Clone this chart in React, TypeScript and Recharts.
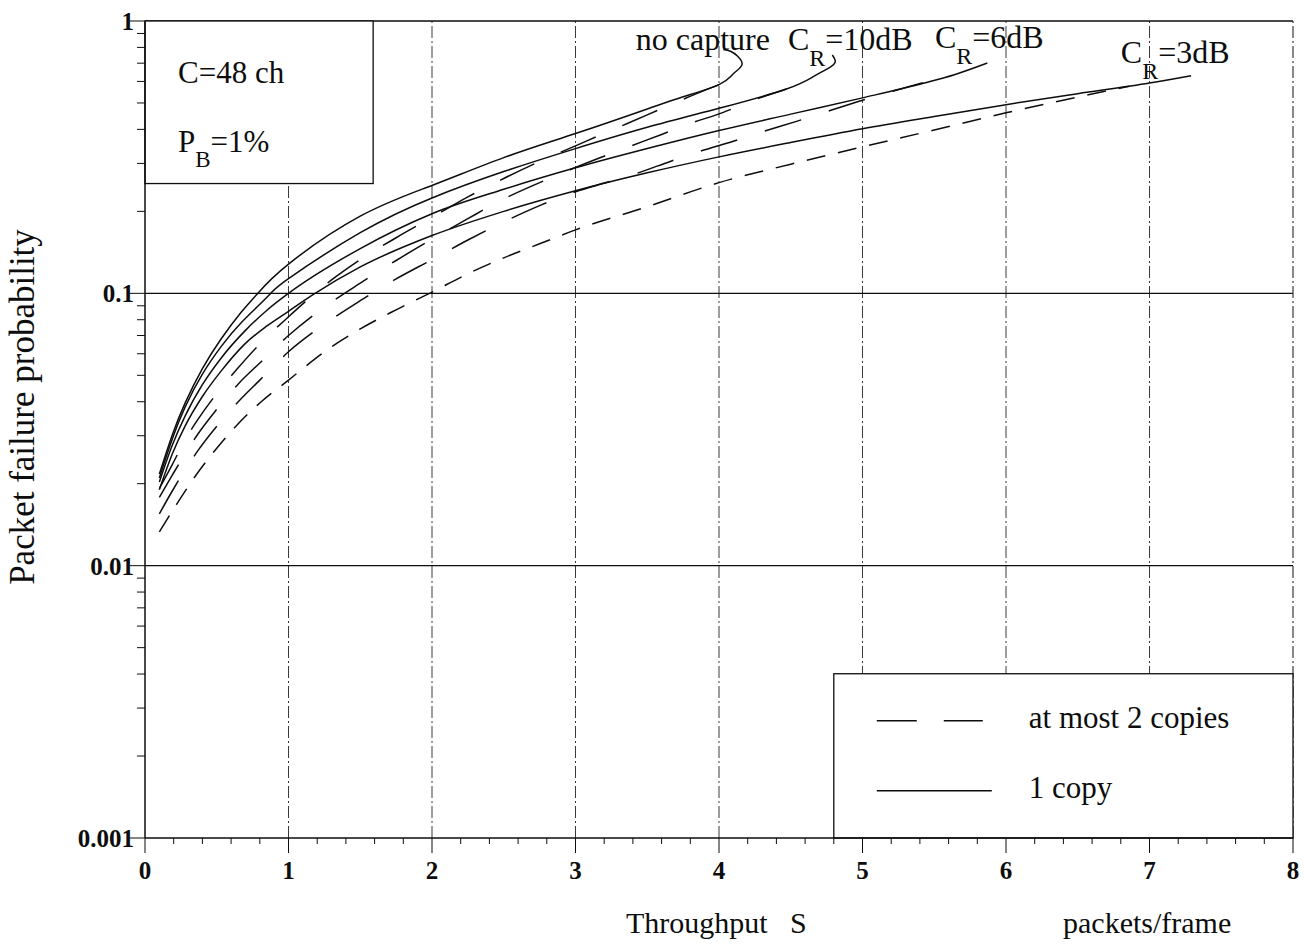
import { LineChart, Line, XAxis, YAxis, ReferenceLine, ReferenceArea, ReferenceDot } from 'recharts';

// throughput S (packets/frame) against packet failure probability
// "1" = 1 copy (solid), "2" = at most 2 copies (dashed)
const noCapture1 = [
  [0.1, 0.0217], [0.19, 0.0302], [0.28, 0.0396], [0.4, 0.0529], [0.53, 0.068], [0.67, 0.0852],
  [0.78, 0.0992], [1.0, 0.128], [1.5, 0.192], [2.0, 0.249], [2.5, 0.315], [3.0, 0.386], [3.5, 0.475],
  [3.75, 0.527], [4.0, 0.584], [4.1, 0.64], [4.16, 0.69], [4.13, 0.742], [4.08, 0.774], [4.03, 0.785],
];
const noCapture2 = [
  [0.1, 0.0192], [0.19, 0.0235], [0.28, 0.029], [0.37, 0.0345], [0.51, 0.0435], [0.64, 0.0526],
  [0.81, 0.066], [1.0, 0.082], [1.3, 0.112], [1.5, 0.133], [1.75, 0.16], [2.0, 0.19], [2.25, 0.226],
  [2.5, 0.264], [2.75, 0.305], [3.0, 0.348], [3.25, 0.397], [3.5, 0.452], [3.75, 0.516], [4.0, 0.584],
];
const cr10dB1 = [
  [0.1, 0.021], [0.19, 0.0292], [0.28, 0.0383], [0.4, 0.0505], [0.53, 0.0637], [0.67, 0.078],
  [0.86, 0.098], [1.0, 0.1133], [1.5, 0.167], [2.0, 0.224], [2.5, 0.28], [3.0, 0.34], [3.5, 0.407],
  [4.0, 0.478], [4.47, 0.563], [4.66, 0.626], [4.78, 0.68], [4.81, 0.715], [4.79, 0.75],
];
const cr10dB2 = [
  [0.1, 0.0178], [0.19, 0.0215], [0.28, 0.0258], [0.37, 0.0305], [0.5, 0.0375], [0.65, 0.0465],
  [0.8, 0.0555], [1.0, 0.07], [1.25, 0.089], [1.5, 0.109], [1.75, 0.132], [2.0, 0.158], [2.25, 0.188],
  [2.5, 0.222], [2.75, 0.255], [3.0, 0.29], [3.35, 0.342], [3.6, 0.383], [3.78, 0.417], [4.03, 0.462],
  [4.22, 0.507], [4.47, 0.563],
];
const cr6dB1 = [
  [0.1, 0.0203], [0.19, 0.0277], [0.28, 0.0355], [0.4, 0.0462], [0.53, 0.0578], [0.7, 0.0731],
  [0.85, 0.0867], [1.0, 0.1], [1.5, 0.146], [2.0, 0.196], [2.5, 0.241], [3.0, 0.289], [3.5, 0.34],
  [4.0, 0.396], [4.5, 0.455], [5.0, 0.522], [5.43, 0.592], [5.64, 0.635], [5.87, 0.701],
];
const cr6dB2 = [
  [0.1, 0.0155], [0.19, 0.0188], [0.28, 0.0225], [0.37, 0.0265], [0.5, 0.0325], [0.65, 0.04],
  [0.8, 0.048], [1.0, 0.061], [1.25, 0.077], [1.5, 0.094], [1.75, 0.113], [2.0, 0.133], [2.25, 0.157],
  [2.5, 0.183], [2.75, 0.21], [3.0, 0.236], [3.2, 0.254], [3.42, 0.275], [3.66, 0.305], [3.85, 0.33],
  [4.1, 0.362], [4.29, 0.39], [4.54, 0.428], [4.73, 0.461], [5.0, 0.512], [5.2, 0.55], [5.42, 0.594],
];
const cr3dB1 = [
  [0.1, 0.019], [0.19, 0.0257], [0.28, 0.0326], [0.4, 0.0418], [0.53, 0.0518], [0.7, 0.0655],
  [0.85, 0.0759], [1.0, 0.0859], [1.16, 0.098], [1.5, 0.125], [2.0, 0.163], [2.5, 0.2], [3.0, 0.238],
  [3.5, 0.277], [4.0, 0.317], [4.5, 0.358], [5.0, 0.402], [5.5, 0.446], [6.0, 0.493], [6.5, 0.541],
  [7.0, 0.592], [7.29, 0.63],
];
const cr3dB2 = [
  [0.1, 0.0133], [0.22, 0.0168], [0.35, 0.0213], [0.49, 0.0266], [0.64, 0.0328], [0.81, 0.04],
  [1.0, 0.048], [1.25, 0.061], [1.5, 0.074], [1.75, 0.087], [2.0, 0.101], [2.25, 0.118], [2.5, 0.135],
  [2.75, 0.152], [3.0, 0.171], [3.5, 0.208], [4.0, 0.255], [4.5, 0.298], [5.0, 0.345], [5.5, 0.398],
  [6.0, 0.46], [6.5, 0.526], [6.86, 0.576],
];

const xTicks = [
  0, 0.2, 0.4, 0.6, 0.8, 1, 1.2, 1.4, 1.6, 1.8, 2, 2.2, 2.4, 2.6, 2.8, 3, 3.2, 3.4, 3.6, 3.8, 4,
  4.2, 4.4, 4.6, 4.8, 5, 5.2, 5.4, 5.6, 5.8, 6, 6.2, 6.4, 6.6, 6.8, 7, 7.2, 7.4, 7.6, 7.8, 8,
];
const yTicks = [
  0.001, 0.002, 0.003, 0.004, 0.005, 0.006, 0.007, 0.008, 0.009,
  0.01, 0.02, 0.03, 0.04, 0.05, 0.06, 0.07, 0.08, 0.09,
  0.1, 0.2, 0.3, 0.4, 0.5, 0.6, 0.7, 0.8, 0.9, 1,
];
const xGrid = [1, 2, 3, 4, 5, 6, 7];
const yGrid = [0.01, 0.1];

const curveLabels = [
  { s: 3.42, p: 0.782, main: 'no capture' },
  { s: 4.48, p: 0.782, main: 'C', sub: 'R', rest: '=10dB' },
  { s: 5.505, p: 0.796, main: 'C', sub: 'R', rest: '=6dB' },
  { s: 6.8, p: 0.7, main: 'C', sub: 'R', rest: '=3dB' },
];

const FONT = '"Liberation Serif", "Times New Roman", serif';
const INK = '#0d0d0d';
const LONG_DASH = '38 29';
const SHORT_DASH = '19 13';

const legendEntries = [
  { label: 'at most 2 copies', dash: '40 27' },
  { label: '1 copy', dash: undefined },
];

// curves with a fold-back at high load need a parametric spline
const series = [
  { id: 'nc1', data: noCapture1, curve: 'natural' },
  { id: 'nc2', data: noCapture2, dash: LONG_DASH },
  { id: 'c10-1', data: cr10dB1, curve: 'natural' },
  { id: 'c10-2', data: cr10dB2, dash: LONG_DASH },
  { id: 'c6-1', data: cr6dB1 },
  { id: 'c6-2', data: cr6dB2, dash: LONG_DASH },
  { id: 'c3-1', data: cr3dB1 },
  { id: 'c3-2', data: cr3dB2, dash: SHORT_DASH },
];

const toPoints = (rows: number[][]) => rows.map(([s, p]) => ({ s, p }));

const isDecade = (v: number) => Math.abs(Math.log10(v) - Math.round(Math.log10(v))) < 1e-6;

const XTick = ({ x, y, payload }: any) => {
  const major = Number.isInteger(payload.value);
  return (
    <g>
      <line x1={x} y1={y} x2={x} y2={y + (major ? 15 : 6)} stroke={INK} strokeWidth={1} />
      {major && (
        <text x={x} y={y + 41} textAnchor="middle" fontFamily={FONT} fontSize={25} fontWeight="bold" fill={INK}>
          {payload.value}
        </text>
      )}
    </g>
  );
};

const YTick = ({ x, y, payload }: any) => {
  const major = isDecade(payload.value);
  return (
    <g>
      <line x1={x - (major ? 15 : 8)} y1={y} x2={x} y2={y} stroke={INK} strokeWidth={1} />
      {major && (
        <text x={x - 11} y={y + 9} textAnchor="end" fontFamily={FONT} fontSize={25} fontWeight="bold" fill={INK}>
          {String(payload.value)}
        </text>
      )}
    </g>
  );
};

const XTitle = (props: any) => {
  const vb = props.viewBox || { x: 145, y: 838 };
  return (
    <g fontFamily={FONT} fontSize={30} fill={INK}>
      <text x={vb.x + 481} y={vb.y + 95}>Throughput</text>
      <text x={vb.x + 645} y={vb.y + 95}>S</text>
      <text x={vb.x + 918} y={vb.y + 95}>packets/frame</text>
    </g>
  );
};

const YTitle = (props: any) => {
  const vb = props.viewBox || { x: 0, y: 21 };
  const cx = vb.x + 34;
  const cy = vb.y + 386;
  return (
    <text x={cx} y={cy} transform={`rotate(-90 ${cx} ${cy})`} textAnchor="middle"
      fontFamily={FONT} fontSize={35} fill={INK}>
      Packet failure probability
    </text>
  );
};

const ParamBox = ({ x, y, width, height }: any) => (
  <g fontFamily={FONT} fill={INK}>
    <rect x={x} y={y} width={width} height={height} fill="#fff" stroke={INK} strokeWidth={1.3} />
    <text x={x + 33} y={y + 62} fontSize={31}>C=48 ch</text>
    <text x={x + 33} y={y + 131} fontSize={31}>
      P<tspan fontSize={23} dy={15}>B</tspan><tspan dy={-15}>=1%</tspan>
    </text>
  </g>
);

const LegendBox = ({ x, y, width, height }: any) => (
  <g fontFamily={FONT} fill={INK}>
    <rect x={x} y={y} width={width} height={height} fill="#fff" stroke={INK} strokeWidth={1.3} />
    {legendEntries.map((e, i) => (
      <g key={e.label}>
        <line x1={x + 43} y1={y + 47 + i * 70} x2={x + (e.dash ? 149 : 158)} y2={y + 47 + i * 70}
          stroke={INK} strokeWidth={1.4} strokeDasharray={e.dash} />
        <text x={x + 195} y={y + 54 + i * 70} fontSize={31}>{e.label}</text>
      </g>
    ))}
  </g>
);

const CurveLabel = ({ cx, cy, main, sub, rest }: any) => (
  <text x={cx} y={cy} fontFamily={FONT} fontSize={32} fill={INK}>
    {main}
    {sub && <tspan fontSize={24} dy={16}>{sub}</tspan>}
    {rest && <tspan dy={-16}>{rest}</tspan>}
  </text>
);

export default function App() {
  return (
    <div style={{ position: 'absolute', left: 0, top: 0, width: 1307, height: 945, background: '#fff' }}>
      <LineChart width={1307} height={945} margin={{ top: 21, right: 14, bottom: 0, left: 0 }}>
        <XAxis
          dataKey="s"
          type="number"
          domain={[0, 8]}
          ticks={xTicks}
          interval={0}
          tickSize={0}
          tickMargin={0}
          tick={<XTick />}
          height={107}
          axisLine={{ stroke: INK, strokeWidth: 1.5 }}
          allowDataOverflow
          label={{ content: XTitle }}
        />
        <YAxis
          type="number"
          scale="log"
          domain={[0.001, 1]}
          ticks={yTicks}
          interval={0}
          tickSize={0}
          tickMargin={0}
          tick={<YTick />}
          width={145}
          axisLine={{ stroke: INK, strokeWidth: 1.5 }}
          allowDataOverflow
          label={{ content: YTitle }}
        />

        {xGrid.map((v) => (
          <ReferenceLine key={`gx${v}`} x={v} stroke="#3a3a3a" strokeWidth={1} strokeDasharray="12 3 2 3" zIndex={-10} />
        ))}
        {yGrid.map((v) => (
          <ReferenceLine key={`gy${v}`} y={v} stroke={INK} strokeWidth={1.2} zIndex={-10} />
        ))}
        <ReferenceLine y={1} stroke={INK} strokeWidth={1.4} zIndex={-10} />
        <ReferenceLine x={8} stroke="#3a3a3a" strokeWidth={1.2} strokeDasharray="12 3 2 3" zIndex={-10} />

        <ReferenceArea x1={0} x2={1.59} y1={0.253} y2={1} shape={<ParamBox />} zIndex={10} />
        <ReferenceArea x1={4.8} x2={8} y1={0.001} y2={0.00401} shape={<LegendBox />} zIndex={10} />

        {series.map((s) => (
          <Line
            key={s.id}
            data={toPoints(s.data)}
            dataKey="p"
            type={(s.curve || 'monotone') as any}
            stroke={INK}
            strokeWidth={1.5}
            strokeDasharray={s.dash}
            dot={false}
            activeDot={false}
            isAnimationActive={false}
          />
        ))}

        {curveLabels.map((l) => (
          <ReferenceDot
            key={l.rest || l.main}
            x={l.s}
            y={l.p}
            r={0}
            shape={(p: any) => <CurveLabel cx={p.cx} cy={p.cy} {...l} />}
          />
        ))}
      </LineChart>
    </div>
  );
}
